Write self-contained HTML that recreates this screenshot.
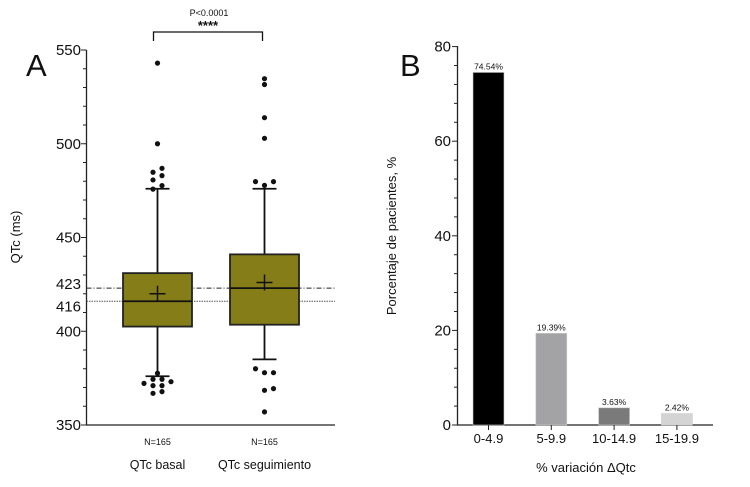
<!DOCTYPE html>
<html><head><meta charset="utf-8"><style>
body{margin:0;background:#fff;font-family:"Liberation Sans",sans-serif}
svg text{font-family:"Liberation Sans",sans-serif;fill:#111}
</style></head><body>
<svg id="c" width="750" height="482" viewBox="0 0 750 482">
<g id="A"></g>
<g id="B"></g>
</svg>
<script>
const groups=["QTc basal","QTc seguimiento"];
const q1=[402.5,403.5];
const q3=[431,441];
const medians=[416,423];
const means=[420,426];
const whiskLo=[376,385];
const whiskHi=[476,476];
const outliers=[[543,500,486.9,484.8,483,480.7,477.7,475.8,377.6,374.4,374.4,372.2,373.1,371,371,366.9,367.8],[534.7,531.6,513.9,502.9,479.8,479.8,477.8,380,377.9,377.9,368.5,369.4,357]];
const jitter=[[0,0,1,-1,1,-1,1,-1,0,-1,1,-3,3,-1,1,-1,1],[0,0,0,0,-2,2,0,-2,0,2,0,2,0]];
const aTicks=[350,400,450,500,550];
const refLines=[423,416];
const bCats=["0-4.9","5-9.9","10-14.9","15-19.9"];
const bVals=[74.54,19.39,3.63,2.42];
const bLabels=["74.54%","19.39%","3.63%","2.42%"];
const bTicks=[0,20,40,60,80];
const bColors=["#000","#a3a3a6","#7a7a7a","#d4d4d4"];
const NS="http://www.w3.org/2000/svg";
function mk(p,t,a,txt){const e=document.createElementNS(NS,t);for(const k in a)e.setAttribute(k,a[k]);if(txt!==undefined)e.textContent=txt;p.appendChild(e);return e;}
// Panel A
const A=document.getElementById('A');
const yA=v=>425-(v-350)*1.875;
const xA=i=>157.5+i*107;
mk(A,'text',{x:26,y:76,'font-size':31,},'A');
mk(A,'line',{x1:86.5,y1:50,x2:86.5,y2:425,stroke:'#222','stroke-width':1.3,});
mk(A,'line',{x1:86,y1:425,x2:335,y2:425,stroke:'#222','stroke-width':1.3,});
for(let v=350;v<=550;v+=10){const big=v%50===0;mk(A,'line',{x1:big?81:83,y1:yA(v),x2:86.5,y2:yA(v),stroke:'#222','stroke-width':1});}
aTicks.forEach(v=>{const t=mk(A,'text',{x:81,y:yA(v)+5,'font-size':15,'text-anchor':'end'},v);});
refLines.forEach((v,i)=>{const t=mk(A,'text',{x:81,y:yA(v)+(i===0?1:10),'font-size':15,'text-anchor':'end'},v);
const l=mk(A,'line',{x1:86.5,y1:yA(v),x2:335,y2:yA(v),stroke:i===0?'#222':'#555','stroke-width':1,'stroke-dasharray':i===0?'5,2,1,2':'1.5,1'});});
mk(A,'text',{x:20,y:237,'font-size':13,'text-anchor':'middle',transform:'rotate(-90 20 237)',},'QTc (ms)');
groups.forEach((g,i)=>{const cx=xA(i);
const w1=mk(A,'line',{x1:cx,y1:yA(whiskHi[i]),x2:cx,y2:yA(whiskLo[i]),stroke:'#111','stroke-width':1.8});
[whiskHi[i],whiskLo[i]].forEach(v=>mk(A,'line',{x1:cx-12,y1:yA(v),x2:cx+12,y2:yA(v),stroke:'#111','stroke-width':1.8}));
const b=mk(A,'rect',{x:cx-34.5,y:yA(q3[i]),width:69,height:yA(q1[i])-yA(q3[i]),fill:'#847d18',stroke:'#222','stroke-width':1.8});
mk(A,'line',{x1:cx-34.5,y1:yA(medians[i]),x2:cx+34.5,y2:yA(medians[i]),stroke:'#111','stroke-width':1.8});
mk(A,'line',{x1:cx-8,y1:yA(means[i]),x2:cx+8,y2:yA(means[i]),stroke:'#111','stroke-width':1.5});
mk(A,'line',{x1:cx,y1:yA(means[i])-8,x2:cx,y2:yA(means[i])+8,stroke:'#111','stroke-width':1.5});
outliers[i].forEach((v,j)=>{const c=mk(A,'circle',{cx:cx+jitter[i][j]*4.5,cy:yA(v),r:2.6,fill:'#111'});});
const n=mk(A,'text',{x:cx,y:445,'font-size':9,'text-anchor':'middle'},'N=165');
const gl=mk(A,'text',{x:cx,y:469,'font-size':12.5,'text-anchor':'middle'},g);
});
mk(A,'path',{d:'M153.5 41 V32 H262.5 V41',fill:'none',stroke:'#111','stroke-width':1.3,});
mk(A,'text',{x:209,y:16,'font-size':9,'text-anchor':'middle',},'P<0.0001');
mk(A,'text',{x:208,y:30,'font-size':13,'font-weight':'bold','text-anchor':'middle',},'****');
// Panel B
const B=document.getElementById('B');
const yB=v=>425-v*4.73;
const xB=i=>488.5+i*62.8;
mk(B,'text',{x:400,y:76,'font-size':31,},'B');
mk(B,'line',{x1:457.5,y1:46,x2:457.5,y2:425,stroke:'#222','stroke-width':1.3,});
mk(B,'line',{x1:457,y1:425,x2:713,y2:425,stroke:'#222','stroke-width':1.3,});
for(let v=0;v<=80;v+=4){const big=v%20===0;mk(B,'line',{x1:big?452:454,y1:yB(v),x2:457.5,y2:yB(v),stroke:'#222','stroke-width':1});}
bTicks.forEach(v=>{const t=mk(B,'text',{x:451,y:yB(v)+5,'font-size':15,'text-anchor':'end'},v);});
mk(B,'text',{x:396,y:236,'font-size':13,'text-anchor':'middle',transform:'rotate(-90 396 236)',},'Porcentaje de pacientes, %');
bCats.forEach((c,i)=>{const cx=xB(i);
const r=mk(B,'rect',{x:cx-15.5,y:yB(bVals[i]),width:31,height:yB(0)-yB(bVals[i]),fill:bColors[i],stroke:'#ccc','stroke-width':0.6});
mk(B,'line',{x1:cx,y1:425,x2:cx,y2:430,stroke:'#222','stroke-width':1});
const vl=mk(B,'text',{x:cx,y:yB(bVals[i])-3,'font-size':8.5,'text-anchor':'middle'},bLabels[i]);
const xl=mk(B,'text',{x:cx,y:443,'font-size':13,'text-anchor':'middle'},c);
});
mk(B,'text',{x:586,y:472,'font-size':13,'text-anchor':'middle',},'% variación ΔQtc');
</script>
</body></html>
